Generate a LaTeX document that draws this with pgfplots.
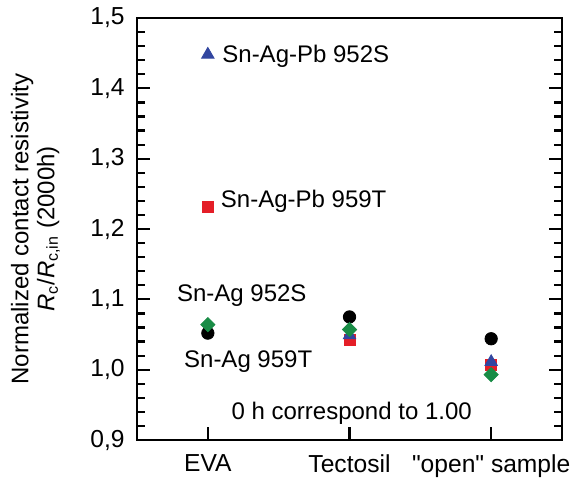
\documentclass[border=0pt]{standalone}
\usepackage{fontspec}
\setmainfont{Liberation Sans}[Ligatures=TeXOff]
\usepackage{pgfplots}
\pgfplotsset{compat=1.18}
\definecolor{cred}{RGB}{228,30,40}
\definecolor{cblue}{RGB}{50,70,160}
\definecolor{cgreen}{RGB}{25,140,70}
\begin{document}
\fontsize{12}{14}\selectfont
\begin{tikzpicture}
\begin{axis}[
  scale only axis,
  width=212.5pt, height=211pt,
  xmin=-0.5, xmax=2.5,
  ymin=0.9, ymax=1.5,
  xtick={0,1,2},
  xticklabels={EVA,Tectosil,{"open" sample}},
  ytick={0.9,1.0,1.1,1.2,1.3,1.4,1.5},
  minor y tick num=4,
  xtick pos=bottom,
  ytick pos=both,
  tick align=inside,
  major tick length=6.5pt,
  minor tick length=4pt,
  axis line style={line width=1.3pt},
  every tick/.style={black, line width=1.1pt},
  /pgf/number format/assume math mode=true,
  /pgf/number format/use comma,
  /pgf/number format/fixed,
  /pgf/number format/fixed zerofill,
  /pgf/number format/precision=1,
  tick label style={font=\fontsize{12.3}{14}\selectfont},
  yticklabel style={xshift=-2pt},
  xticklabel style={yshift=-3pt},
  ylabel={Normalized contact resistivity\\\textit{R}\textsubscript{c}/\textit{R}\textsubscript{c,in} (2000h)},
  ylabel style={align=center, font=\fontsize{12}{13}\selectfont, yshift=7pt},
  clip=false,
]
% black circles
\addplot[only marks, mark=*, mark size=3.1pt, black] coordinates {(0,1.052) (1,1.075) (2,1.044)};
% red squares
\addplot[only marks, mark=square*, mark size=2.7pt, cred] coordinates {(0,1.231) (1,1.042) (2,1.007)};
% blue triangles
\addplot[only marks, mark=triangle*, mark size=3.6pt, cblue] coordinates {(0,1.448) (1,1.049) (2,1.011)};
% green diamonds
\addplot[only marks, mark=square*, mark options={rotate=45}, mark size=2.5pt, cgreen] coordinates {(0,1.064) (1,1.057) (2,0.993)};
\node[anchor=west, inner sep=0pt] at (axis cs:0.10,1.445) {Sn-Ag-Pb 952S};
\node[anchor=west, inner sep=0pt] at (axis cs:0.09,1.24) {Sn-Ag-Pb 959T};
\node[anchor=west, inner sep=0pt] at (axis cs:-0.22,1.105) {Sn-Ag 952S};
\node[anchor=west, inner sep=0pt] at (axis cs:-0.17,1.012) {Sn-Ag 959T};
\node[anchor=west, inner sep=0pt] at (axis cs:0.165,0.938) {0 h correspond to 1.00};
\end{axis}
\path[use as bounding box] ([xshift=-68.5pt,yshift=-21.5pt]current axis.south west) rectangle ([xshift=12pt,yshift=6.5pt]current axis.north east);
\end{tikzpicture}
\end{document}
